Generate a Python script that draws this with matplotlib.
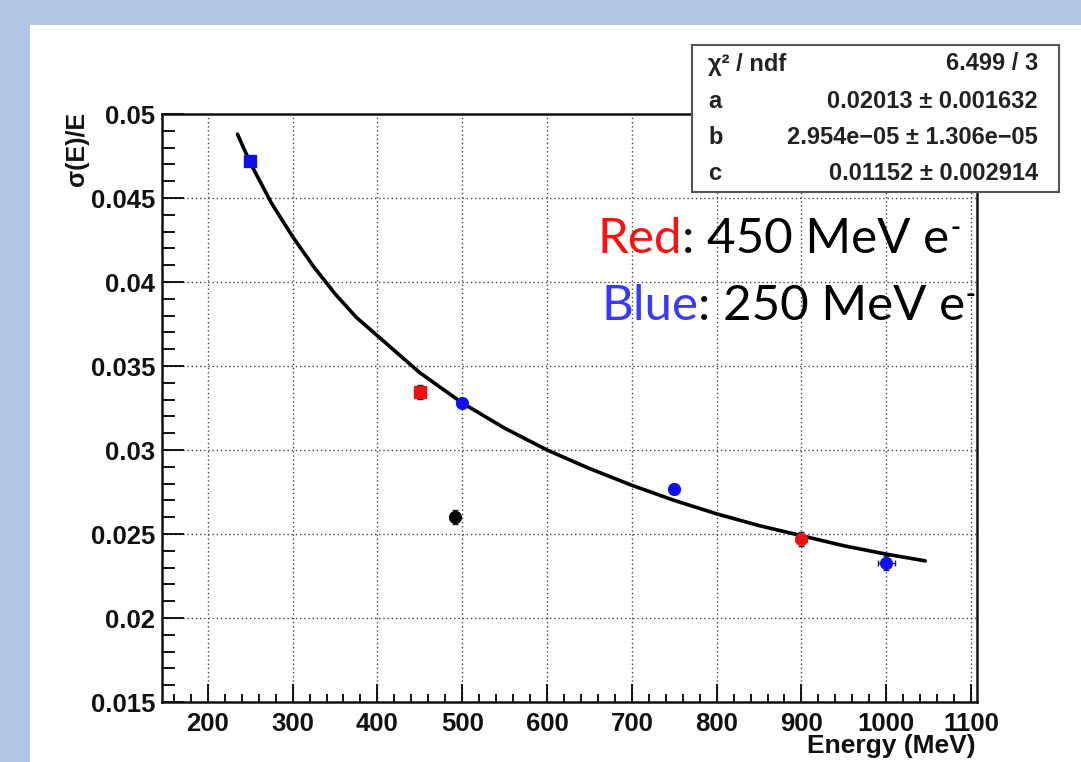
import numpy as np
import matplotlib
matplotlib.use("Agg")
import matplotlib.pyplot as plt
from matplotlib.patches import Rectangle
from matplotlib.ticker import MultipleLocator

# data
blue_E = [250, 500, 750, 1000]
blue_res = [0.0472, 0.0328, 0.02768, 0.02327]
blue_err = [0.0002, 0.0002, 0.0003, 0.0004]
blue_xerr = [0, 0, 4, 10]
blue_mk = ['s', 'o', 'o', 'o']

red_E = [450, 900]
red_res = [0.03345, 0.0247]
red_err = [0.0004, 0.0004]
red_xerr = [0, 6]
red_mk = ['s', 'o']

black_E = [491]
black_res = [0.0260]
black_err = [0.0004]

# fit curve, sampled by eye
fit_E = [235, 250, 275, 300, 325, 350, 375, 400, 450, 500, 550, 600, 650,
         700, 750, 800, 850, 900, 950, 1000, 1046]
fit_res = [0.0488, 0.0471, 0.0447, 0.0427, 0.0409, 0.0393, 0.0379, 0.0368,
           0.0346, 0.0328, 0.0313, 0.0300, 0.0289, 0.0279, 0.0270, 0.0262,
           0.0255, 0.0249, 0.0243, 0.0238, 0.0234]

stat_names = ['χ² / ndf', 'a', 'b', 'c']
stat_vals = ['6.499 / 3', '0.02013 ± 0.001632', '2.954e−05 ± 1.306e−05',
             '0.01152 ± 0.002914']

W, H = 1081, 762
fig = plt.figure(figsize=(W / 100, H / 100), dpi=100, facecolor='#b1c5e5')
fig.patches.append(Rectangle((30 / W, 0), 1, 1 - 25 / H, transform=fig.transFigure,
                             facecolor='white', edgecolor='none', zorder=-1))

ax = fig.add_axes([162 / W, 60 / H, 815 / W, 588 / H])
ax.set_xlim(146, 1107)
ax.set_ylim(0.015, 0.05)

bold = dict(family='Liberation Sans', weight='bold')

ax.plot(fit_E, fit_res, color='black', lw=2.6, zorder=3, solid_capstyle='round')

def draw_pts(E, r, err, xerr, mks, col):
    for e, v, ye, xe, m in zip(E, r, err, xerr, mks):
        ax.errorbar([e], [v], yerr=[ye], xerr=[xe], fmt=m, color=col, ms=8.5,
                    ecolor='#222222', elinewidth=1, capsize=2, zorder=4)

draw_pts(blue_E, blue_res, blue_err, blue_xerr, blue_mk, '#1010ee')
draw_pts(red_E, red_res, red_err, red_xerr, red_mk, '#ee1111')
draw_pts(black_E, black_res, black_err, [0], ['o'], 'black')

ax.xaxis.set_major_locator(MultipleLocator(100))
ax.xaxis.set_minor_locator(MultipleLocator(20))
ax.yaxis.set_major_locator(MultipleLocator(0.005))
ax.yaxis.set_minor_locator(MultipleLocator(0.001))
ax.yaxis.set_major_formatter(plt.FuncFormatter(lambda v, p: ('%g' % round(v, 4))))

ax.tick_params(axis='both', which='both', direction='in', width=1.4, color='#111111')
ax.tick_params(axis='y', which='major', length=16, pad=5)
ax.tick_params(axis='y', which='minor', length=9)
ax.tick_params(axis='x', which='major', length=13, pad=7)
ax.tick_params(axis='x', which='minor', length=6)
for lab in ax.get_xticklabels() + ax.get_yticklabels():
    lab.set_fontfamily('Liberation Sans')
    lab.set_fontweight('bold')
    lab.set_fontsize(18.5)
    lab.set_color('#111111')

ax.grid(True, which='major', color='#444444', ls=(0, (1, 2)), lw=1.0)
for s in ax.spines.values():
    s.set_linewidth(1.8)
    s.set_color('#111111')

fig.text(77 / W, 1 - 112 / H, 'σ(E)/E', rotation=90, ha='center', va='top',
         fontsize=18, color='#111111', **bold)
fig.text(976 / W, 1 - 746 / H, 'Energy (MeV)', ha='right', va='center',
         fontsize=19, color='#111111', **bold)

# stats box
fig.patches.append(Rectangle((692 / W, 1 - 192 / H), 367 / W, 147 / H,
                             transform=fig.transFigure, facecolor='white',
                             edgecolor='#555555', lw=1.5, zorder=5))
rows_y = [64, 101, 137, 173]
for name, val, yy in zip(stat_names, stat_vals, rows_y):
    fig.text(708 / W, 1 - yy / H, name, ha='left', va='center', fontsize=17,
             color='#222222', zorder=6, **bold)
    fig.text(1038 / W, 1 - yy / H, val, ha='right', va='center', fontsize=17,
             color='#222222', zorder=6, **bold)

# colour legend text
def label_line(word, col, rest, x, y):
    t1 = fig.text(x / W, 1 - y / H, word, color=col, fontsize=35.5,
                  family='Lato', va='baseline', zorder=6)
    t2 = ax.annotate(rest, xy=(1, 0), xycoords=t1, va='bottom', ha='left',
                     fontsize=35.5, family='Lato', color='black', zorder=6)
    ax.annotate('-', xy=(1, H - y + 17), xycoords=(t2, 'figure pixels'),
                xytext=(0.5, 0), textcoords='offset points', va='baseline',
                ha='left', fontsize=19, family='Lato', weight='bold',
                color='black', zorder=6)

label_line('Red', '#ff1010', ': 450 MeV e', 598, 253)
label_line('Blue', '#3838ff', ': 250 MeV e', 601, 320)

fig.savefig('out.png', dpi=100, facecolor=fig.get_facecolor())
